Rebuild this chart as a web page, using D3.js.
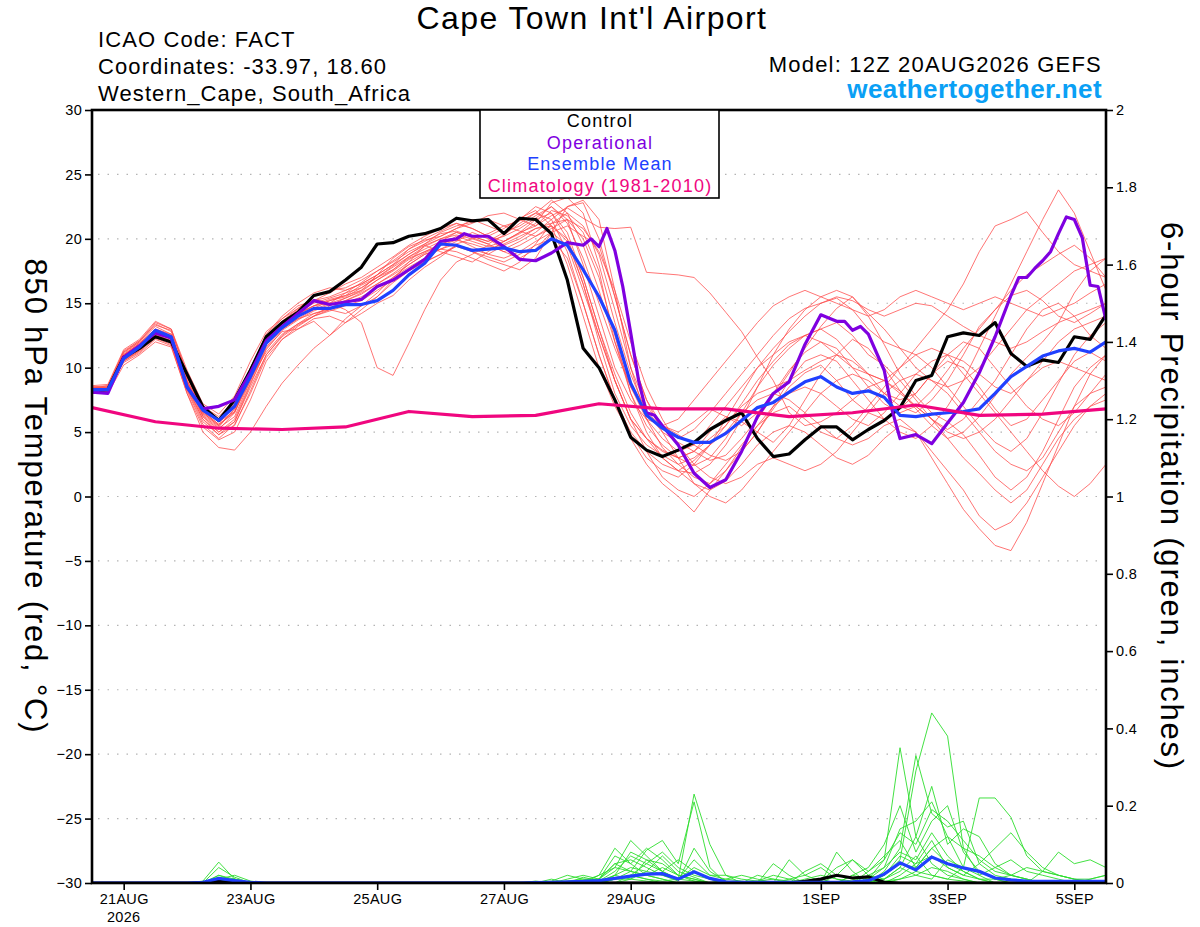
<!DOCTYPE html>
<html>
<head>
<meta charset="utf-8">
<script src="https://cdn.jsdelivr.net/npm/d3@7"></script>
<style>
  body { margin: 0; background: #fff; }
  svg { display: block; font-family: "Liberation Sans", Arial, Helvetica, sans-serif; }
</style>
</head>
<body>
<svg id="chart" width="1200" height="927"></svg>
<script>
// run start 12Z 20AUG2026, 6-hourly steps out to 384 h
var runStart = Date.UTC(2026, 7, 20, 12);
var stepHours = 6;

var dateTicks = ["2026-08-21", "2026-08-23", "2026-08-25", "2026-08-27",
                 "2026-08-29", "2026-09-01", "2026-09-03", "2026-09-05"];
var tempTicks = [-30, -25, -20, -15, -10, -5, 0, 5, 10, 15, 20, 25, 30];
var precipTicks = [0, 0.2, 0.4, 0.6, 0.8, 1, 1.2, 1.4, 1.6, 1.8, 2];

var legendItems = ["Control", "Operational", "Ensemble Mean", "Climatology (1981-2010)"];

// 850 hPa temperature, control run (black)
var controlTemp = [8.2, 8.3, 10.8, 11.5, 12.4, 12.0, 9.5, 6.95, 5.9, 7.5,
  9.8, 12.4, 13.5, 14.3, 15.6, 15.9, 16.8, 17.8, 19.6, 19.7,
  20.2, 20.4, 20.8, 21.6, 21.4, 21.5, 20.4, 21.6, 21.5, 20.4,
  16.8, 11.5, 10.0, 7.5, 4.6, 3.6, 3.1, 3.6, 4.2, 5.2,
  5.9, 6.5, 4.5, 3.1, 3.3, 4.4, 5.4, 5.4, 4.4, 5.2,
  5.9, 6.9, 9.0, 9.4, 12.4, 12.7, 12.5, 13.5, 11.1, 10.1,
  10.6, 10.4, 12.4, 12.2, 14.1];

// ensemble mean (blue)
var meanTemp = [8.3, 8.3, 10.7, 11.6, 12.9, 12.4, 8.5, 6.7, 5.9, 7.0,
  9.3, 11.9, 13.1, 14.0, 14.6, 14.6, 14.9, 14.9, 15.2, 16.0,
  17.2, 18.1, 19.6, 19.5, 19.1, 19.2, 19.3, 19.0, 19.1, 20.0,
  19.5, 17.6, 15.5, 12.9, 8.8, 6.3, 5.3, 4.6, 4.2, 4.2,
  4.9, 5.9, 6.9, 7.3, 8.1, 8.9, 9.3, 8.5, 8.0, 8.2,
  7.7, 6.3, 6.2, 6.4, 6.5, 6.6, 6.8, 8.0, 9.3, 10.1,
  10.9, 11.3, 11.5, 11.2, 12.0];

// operational run (purple), own hour stamps
var opHours = [0, 6, 12, 18, 24, 30, 36, 42, 48, 54, 60, 66, 72, 78, 84, 90, 96, 102, 108, 114,
  120, 126, 132, 138, 141, 144, 150, 156, 162, 168, 174, 180, 186, 189, 192, 195, 198, 201, 204, 207,
  210, 213, 216, 222, 228, 234, 240, 246, 252, 258, 264, 270, 276, 282, 285, 288, 291, 294, 300, 303,
  306, 312, 318, 324, 330, 336, 342, 348, 351, 354, 357, 360, 363, 366, 369, 372, 375, 378, 381, 384];
var opTemp = [8.1, 8.0, 10.8, 11.7, 12.7, 12.3, 8.5, 6.8, 7.0, 7.5, 9.6, 12.1, 13.2, 14.2, 15.2, 14.9, 15.1, 15.3, 16.3, 16.8,
  17.6, 18.4, 19.8, 20.0, 20.4, 20.2, 20.2, 19.4, 18.4, 18.3, 18.9, 19.7, 19.5, 20.0, 19.4, 20.8, 19.1, 16.3, 12.7, 9.0,
  6.5, 6.3, 5.5, 4.0, 1.8, 0.7, 1.3, 3.5, 6.2, 8.0, 8.9, 11.8, 14.1, 13.6, 13.6, 12.9, 13.2, 12.6, 9.8, 6.7,
  4.5, 4.8, 4.1, 5.7, 7.3, 9.6, 12.4, 15.6, 17.0, 17.0, 17.7, 18.3, 19.0, 20.4, 21.7, 21.5, 20.1, 16.4, 16.3, 13.7];

// climatology (pink), daily
var climHours = [0, 24, 48, 72, 96, 120, 144, 168, 192, 216, 240, 264, 288, 312, 336, 360, 384];
var climTemp = [6.9, 5.8, 5.3, 5.2, 5.4, 6.6, 6.2, 6.3, 7.2, 6.8, 6.8, 6.2, 6.5, 7.1, 6.3, 6.4, 6.8];

// ensemble members, 850 hPa temperature (thin red)
var memberTemp = [
  [8.5,8.4,11.2,12.0,13.2,12.6,9.0,6.2,5.2,6.5, 9.5,12.3,13.6,14.6,15.3,15.0,15.8,16.2,17.0,17.8, 18.6,19.2,19.8,20.5,20.1,19.6,20.3,21.2,22.0,21.5, 19.0,15.0,11.0,7.5,5.0,3.5,2.5,2.0,2.8,4.0, 5.5,7.2,9.0,10.5,11.8,12.5,13.0,12.2,10.8,9.5, 8.0,7.0,6.5,7.5,9.0,11.0,13.2,14.5,15.6,16.0, 15.2,14.0,13.5,14.2,15.0],
  [8.2,8.2,10.6,11.4,12.6,12.0,8.6,6.6,5.6,7.2, 9.8,12.0,13.0,13.8,14.2,14.5,14.2,14.8,15.5,16.8, 18.2,19.5,19.0,18.6,18.2,19.0,19.8,20.5,21.0,22.2, 21.8,20.5,17.5,12.0,8.0,5.5,4.0,3.0,3.5,5.0, 6.2,5.8,5.0,4.2,5.5,7.5,9.5,11.0,12.2,11.5, 10.0,8.2,6.8,5.5,4.5,5.0,6.2,7.8,9.5,10.8, 12.0,13.5,15.8,17.5,18.5],
  [8.0,8.1,10.5,11.2,12.3,11.8,8.2,5.6,4.5,5.6, 8.0,10.8,12.2,13.0,13.8,14.0,13.5,14.2,15.0,15.6, 16.8,17.8,18.6,19.5,19.0,18.4,18.0,17.6,18.5,20.5, 22.5,23.0,21.5,16.0,10.0,6.0,3.8,2.5,1.5,1.0, 2.0,3.5,5.0,6.8,8.5,9.6,10.2,9.0,7.5,6.5, 6.0,6.8,8.0,9.5,10.5,10.0,8.5,6.8,5.5,6.0, 7.5,9.0,10.5,11.2,10.5],
  [8.3,8.5,11.0,11.9,13.0,12.5,9.2,6.9,6.0,7.0, 9.2,11.2,12.6,13.4,14.0,14.8,15.4,16.0,17.2,18.5, 19.4,19.9,20.2,20.8,21.2,21.8,22.0,21.5,21.0,21.8, 22.4,21.6,20.9,20.8,20.9,17.4,17.3,17.2,17.0,15.8, 14.3,12.8,10.8,9.0,6.5,5.5,5.8,6.5,7.5,8.5, 9.0,8.2,7.0,6.0,5.2,6.0,7.5,9.0,11.0,13.0, 14.5,15.0,14.0,12.5,11.5],
  [8.6,8.7,11.4,12.2,13.6,13.0,9.8,7.2,6.4,7.8, 10.5,12.8,13.8,14.8,15.2,15.8,16.5,17.0,17.8,18.6, 19.5,20.2,20.8,21.2,20.8,20.2,19.8,20.4,21.2,22.8, 23.2,22.0,18.0,13.5,9.5,6.5,5.0,4.2,3.5,2.8, 3.2,4.5,6.0,7.8,9.6,11.5,13.2,14.6,15.5,14.0, 11.8,9.5,7.8,6.5,5.8,4.8,3.2,1.5,0.5,1.5, 3.5,6.0,8.5,10.0,11.0],
  [8.1,8.0,10.2,11.0,12.0,11.6,8.0,5.0,3.8,3.6, 5.0,7.0,8.8,10.2,11.5,12.5,13.5,14.5,15.5,16.6, 17.5,18.2,18.8,19.5,19.2,18.8,19.5,20.0,20.8,21.0, 20.0,17.0,13.0,9.0,6.0,4.5,3.6,3.0,2.4,3.0, 4.5,6.5,8.5,10.2,11.5,12.5,13.0,13.5,12.5,11.0, 10.2,9.0,7.5,6.0,4.5,3.0,1.8,0.5,-0.5,0.5, 2.5,4.5,6.0,7.0,7.5],
  [8.4,8.3,10.8,11.6,12.8,12.2,8.8,6.4,5.4,6.8, 9.6,12.2,13.4,14.2,14.8,15.0,14.5,13.5,10.0,9.4, 11.9,14.5,16.8,18.2,18.8,19.5,19.0,18.5,19.2,20.5, 21.0,20.2,19.5,15.5,11.0,7.5,5.5,4.5,5.2,6.5, 8.0,9.5,11.0,12.5,13.8,14.6,15.0,15.4,14.5,13.0, 12.0,11.5,11.0,10.0,8.5,7.0,5.5,4.2,3.5,4.5, 6.5,8.8,11.0,12.5,13.5],
  [8.2,8.3,10.7,11.5,12.6,12.1,8.4,6.0,5.0,6.0, 8.8,11.5,12.8,13.0,13.6,12.5,13.8,14.8,15.8,17.0, 18.0,18.8,19.2,19.0,18.5,18.0,17.5,18.2,19.6,21.2, 22.0,21.0,18.8,14.5,10.0,7.0,5.5,5.0,5.8,6.8, 6.2,5.5,6.5,8.0,9.8,11.2,12.0,11.5,10.0,8.5, 7.2,6.5,7.0,8.2,9.8,11.5,13.0,14.5,16.0,17.2, 18.0,18.8,19.5,18.5,17.0],
  [8.0,8.2,10.9,11.8,12.9,12.3,9.0,6.8,5.8,6.6, 9.0,11.8,13.2,14.0,14.6,15.2,15.6,16.4,17.0,17.6, 18.5,19.0,19.6,20.0,19.4,18.8,18.5,19.0,19.8,20.5, 19.5,16.0,12.5,9.0,6.0,3.5,1.5,0.5,0.0,1.0, 2.5,4.0,5.5,6.5,7.0,6.0,5.0,4.5,5.5,7.0, 8.5,10.0,11.0,11.5,11.0,9.5,8.0,6.5,5.0,3.5, 2.0,0.8,0.0,1.0,2.5],
  [8.5,8.5,11.1,12.0,13.4,12.8,9.6,7.0,6.2,7.4, 10.0,12.5,13.8,14.6,15.5,16.0,16.2,16.8,17.5,18.2, 19.0,19.6,20.2,20.8,21.5,21.0,20.5,21.0,21.8,22.5, 21.2,18.5,15.0,11.5,8.5,6.5,5.5,4.8,4.0,3.2, 2.8,3.5,5.0,7.0,9.0,10.5,11.0,10.5,9.0,7.5, 6.0,5.0,4.5,5.5,7.0,9.0,11.5,14.0,16.5,19.0, 21.5,23.8,22.0,19.0,16.0],
  [8.3,8.2,10.4,11.1,12.2,11.7,8.0,5.4,4.4,5.0, 7.5,10.5,12.2,13.2,14.0,14.5,15.0,15.5,16.2,17.0, 17.8,18.5,19.2,19.8,20.5,20.0,19.2,19.8,20.5,21.5, 22.5,22.8,20.0,15.5,11.0,7.5,5.0,3.0,1.0,0.0, -0.5,0.5,2.0,3.5,5.0,6.5,8.0,9.0,9.5,9.0, 8.0,7.5,8.0,9.5,11.0,12.0,11.5,10.0,8.5,7.0, 6.0,5.5,6.5,8.0,9.5],
  [8.4,8.6,11.2,12.1,13.3,12.9,9.4,6.5,5.5,6.8, 9.8,12.6,14.0,15.0,15.8,16.2,16.0,16.5,17.2,18.0, 19.2,20.0,20.6,21.2,20.8,20.2,20.8,21.6,22.2,21.0, 18.0,14.0,10.0,7.0,4.8,3.0,2.0,1.5,2.5,4.0, 6.0,8.0,10.0,11.5,12.8,14.0,15.0,15.5,15.2,14.5, 14.0,14.5,15.0,14.8,14.0,13.2,12.5,12.0,11.5,12.0, 12.8,13.5,14.0,14.5,15.0],
  [8.1,8.0,10.6,11.3,12.4,12.0,8.5,6.2,5.0,5.8, 8.5,11.0,12.5,13.4,14.2,14.6,15.2,15.8,16.5,17.2, 18.0,18.8,19.2,19.6,20.0,20.4,21.0,20.6,20.2,20.8, 21.5,20.0,17.0,12.5,8.0,5.0,3.0,2.0,1.8,2.5, 4.0,6.0,8.5,11.0,13.0,14.5,15.5,16.0,15.5,14.2, 13.0,11.5,10.0,9.0,8.5,9.0,10.0,11.5,13.0,14.5, 15.5,16.5,17.5,18.0,18.5],
  [8.2,8.3,10.8,11.6,12.7,12.2,8.8,6.3,5.3,6.2, 9.0,11.6,13.0,13.8,14.5,15.0,15.4,15.9,16.8,17.5, 18.4,19.0,19.5,20.2,19.8,19.4,19.8,20.5,21.5,22.0, 20.5,17.0,13.0,9.5,6.5,4.5,3.0,2.0,1.0,0.5, 1.2,2.5,4.0,5.0,5.5,5.0,4.0,3.0,2.5,3.2, 4.5,5.5,5.0,3.5,2.0,0.5,-1.5,-2.6,-2.0,-0.5, 1.5,3.5,5.5,7.0,8.0],
  [8.4,8.4,10.9,11.8,12.9,12.4,9.0,6.6,5.6,6.5, 9.2,11.9,13.2,14.1,14.8,15.2,15.5,16.2,17.0,17.9, 18.8,19.5,20.0,20.3,20.0,19.6,19.0,19.5,20.2,21.0, 19.8,16.5,12.0,8.0,5.5,4.0,3.2,2.5,3.0,4.0, 5.0,6.5,7.5,8.0,7.5,6.5,5.5,4.5,4.0,4.5, 5.5,6.0,5.0,3.0,1.0,-1.0,-2.5,-3.8,-4.2,-2.0, 1.0,4.0,7.0,9.5,11.0],
  [8.3,8.4,11.0,11.9,13.0,12.6,9.3,6.8,5.9,7.2, 9.9,12.4,13.6,14.4,15.0,15.4,15.8,16.6,17.5,18.3, 19.2,19.8,20.4,20.6,20.2,19.8,20.5,21.5,22.5,22.0, 20.0,16.5,12.5,9.0,6.0,4.5,3.5,3.0,3.5,4.5, 5.5,7.0,8.0,8.5,9.0,9.8,10.5,11.0,10.5,9.5, 9.0,10.0,11.5,13.0,14.5,16.5,19.0,21.0,21.5,22.1, 20.5,19.0,18.0,17.5,17.0],
  [8.0,8.1,10.5,11.3,12.5,11.9,8.3,5.8,4.8,5.5, 8.2,11.0,12.4,13.3,14.0,14.4,14.8,15.2,16.0,16.8, 17.6,18.2,18.8,19.4,19.0,18.6,18.2,18.8,19.5,20.0, 18.5,15.0,11.0,7.5,4.5,2.5,1.0,0.0,-1.2,0.5, 2.0,3.8,5.5,7.0,8.0,8.5,8.0,7.0,6.0,5.5, 6.5,8.0,9.5,10.5,11.0,10.5,9.5,8.5,8.0,9.0, 10.5,12.0,13.0,13.5,14.0],
  [8.5,8.6,11.3,12.1,13.5,13.0,9.5,7.0,6.0,7.0, 9.6,12.2,13.5,14.5,15.2,15.5,16.0,16.5,17.2,18.0, 18.8,19.6,20.5,21.0,21.3,21.5,21.0,21.4,22.0,23.0, 22.0,19.5,16.0,12.0,8.5,6.0,4.5,3.5,4.0,5.5, 7.0,8.5,10.0,11.0,12.0,12.5,12.0,11.0,10.0,9.5, 9.0,8.0,7.0,6.0,5.0,4.5,5.0,6.0,7.5,9.0, 10.0,10.5,10.0,9.5,9.0],
  [8.2,8.1,10.6,11.4,12.5,12.0,8.5,6.0,4.8,5.8, 8.7,11.4,12.9,13.7,14.4,14.9,15.2,15.7,16.5,17.3, 18.2,18.9,19.5,19.9,19.6,19.2,19.6,20.2,20.8,21.2, 21.5,20.8,19.0,16.0,12.0,8.5,6.0,4.0,2.5,1.5, 1.0,1.5,2.5,3.0,2.5,2.0,2.5,3.5,5.0,6.5, 8.0,9.0,9.5,9.0,8.0,6.5,5.0,3.5,2.5,2.0, 3.0,5.0,7.0,8.0,8.5],
  [8.4,8.5,11.0,11.8,12.8,12.3,8.9,6.5,5.5,6.6, 9.4,12.0,13.3,14.2,14.8,15.3,15.6,16.0,16.8,17.6, 18.6,19.4,20.0,20.5,20.2,19.8,20.2,20.8,21.6,22.5, 21.5,18.0,14.0,10.0,7.5,6.0,5.5,6.0,7.5,9.0, 10.5,12.0,13.5,14.8,15.5,16.0,15.5,15.0,14.5,14.0, 14.5,15.5,16.0,15.5,15.0,14.5,15.0,15.5,15.0,14.5, 14.0,14.5,15.0,15.8,16.5]
];

// 6-hour precipitation (inches): control and ensemble mean
var controlPrecip = [0,0,0,0,0,0,0,0, 0.004,0,0,0, 0,0,0,0,0,0,0,0,0,0,0,0,0,0,0,0,
  0,0,0,0,0,0,0,0,0,0, 0,0,0,0,0,0,0,0.004,0.01,0.02, 0.013,0.016,0.002,0,0,0,0,0,0,0, 0,0,0,0,0,0,0];
var meanPrecip = [0,0,0,0,0,0,0,0.002, 0.012,0.006,0.002,0, 0,0,0,0,0,0,0,0,0,0,0,0,0,0,0,0,
  0.001,0.002,0.003,0.004,0.006,0.012,0.018,0.023,0.024,0.01, 0.029,0.012,0.003,0.002,0.002,0.002,0.002,0.002,0.002,0.002,
  0.003,0.006,0.023,0.052,0.034,0.067,0.05,0.039,0.03,0.013, 0.008,0.005,0.004,0.004,0.004,0.004,0.004];

// ensemble members, 6-hour precipitation (thin green)
var memberPrecip = [
  [0,0,0,0,0,0,0,0.005, 0.054,0.01,0,0, 0,0,0,0,0,0,0,0,0,0,0,0,0,0,0,0,
   0,0,0,0.015,0.005,0.02,0.08,0.06,0.03,0.01, 0.23,0.10,0.02,0,0,0,0,0,0.01,0, 0,0.01,0.06,0.35,0.12,0.05,0.02,0.01,0,0, 0,0,0,0,0,0,0],
  [0,0,0,0,0,0,0,0, 0.04,0.015,0,0, 0,0,0,0,0,0,0,0,0,0,0,0,0,0,0,0,
   0,0,0.01,0.02,0.01,0.04,0.03,0.085,0.11,0.05, 0.21,0.04,0,0,0,0.05,0.02,0,0,0.08, 0.03,0,0.02,0.06,0.29,0.44,0.38,0.09,0.02,0, 0,0,0,0,0,0,0],
  [0,0,0,0,0,0,0,0, 0.02,0.01,0,0, 0,0,0,0,0,0,0,0,0,0,0,0,0,0,0,0,
   0,0.005,0.02,0.01,0.01,0.05,0.06,0.04,0.02,0.005, 0.09,0.03,0.005,0,0.02,0.01,0,0,0,0, 0,0.02,0.04,0.14,0.16,0.21,0.12,0.04,0.22,0.22, 0.17,0.07,0.03,0.02,0.01,0.005,0],
  [0,0,0,0,0,0,0,0, 0.015,0.005,0,0, 0,0,0,0,0,0,0,0,0,0,0,0,0,0,0,0,
   0,0,0,0.005,0.01,0.07,0.05,0.09,0.06,0.02, 0.01,0,0,0,0,0,0.06,0.02,0.005,0, 0,0,0.03,0.09,0.33,0.18,0.145,0.16,0.05,0.02, 0.01,0.005,0,0,0,0,0],
  [0,0,0,0,0,0,0,0, 0.01,0.02,0.005,0, 0,0,0,0,0,0,0,0,0,0,0,0,0,0,0,0,
   0,0,0,0,0.005,0.03,0.07,0.05,0.08,0.04, 0.02,0.01,0,0,0,0,0,0.03,0.05,0.02, 0.06,0.03,0.07,0.11,0.04,0.09,0.05,0.03,0.01,0, 0,0,0.03,0.08,0.05,0.06,0.04],
  [0,0,0,0,0,0,0,0, 0.005,0.01,0,0, 0,0,0,0,0,0,0,0,0,0,0,0,0,0,0,0,
   0.005,0,0,0,0,0.02,0.04,0.03,0.07,0.03, 0.015,0,0,0,0,0,0,0,0,0, 0.02,0.04,0.1,0.2,0.08,0.16,0.2,0.08,0.03,0.01, 0,0,0,0,0,0.01,0.02],
  [0,0,0,0,0,0,0,0, 0.01,0.005,0,0, 0,0,0,0,0,0,0,0,0,0,0,0,0,0,0,0,
   0,0,0,0,0.01,0.05,0.03,0.02,0.04,0.02, 0.005,0,0.01,0.02,0.01,0,0,0,0.005,0.04, 0.06,0.02,0.01,0.04,0.12,0.25,0.1,0.14,0.12,0.05, 0.02,0.01,0,0,0,0,0],
  [0,0,0,0,0,0,0,0, 0,0.01,0,0, 0,0,0,0,0,0,0,0,0,0,0,0,0,0,0,0,
   0,0,0,0,0,0.01,0.02,0.05,0.03,0.06, 0.03,0.01,0,0,0,0,0,0,0,0, 0,0.01,0.02,0.07,0.05,0.11,0.04,0.02,0.05,0.09, 0.13,0.08,0.04,0.02,0.01,0,0],
  [0,0,0,0,0,0,0,0, 0.01,0,0,0, 0,0,0,0,0,0,0,0,0,0,0,0,0,0,0,0,
   0,0,0.005,0.01,0.005,0.01,0.02,0.01,0.005,0.01, 0.06,0.02,0.01,0.005,0,0,0.01,0.02,0.04,0.01, 0,0,0.01,0.03,0.07,0.02,0.01,0.04,0.03,0.01, 0,0,0,0,0,0,0],
  [0,0,0,0,0,0,0,0, 0.02,0.005,0,0, 0,0,0,0,0,0,0,0,0,0,0,0,0,0,0,0,
   0,0,0,0,0,0,0.01,0.03,0.02,0.01, 0.04,0.02,0.02,0.01,0.005,0.01,0.005,0,0,0, 0,0.03,0.06,0.13,0.1,0.19,0.16,0.11,0.06,0.03, 0.02,0.04,0.03,0.02,0.01,0.01,0.02],
  [0,0,0,0,0,0,0,0, 0.005,0.005,0,0, 0,0,0,0,0,0,0,0,0,0,0,0,0,0,0,0,
   0,0.01,0,0,0.02,0.04,0.11,0.07,0.03,0.01, 0.005,0,0,0,0,0,0,0,0,0, 0.02,0.01,0.04,0.08,0.06,0.13,0.07,0.03,0.01,0, 0,0,0,0,0,0,0],
  [0,0,0,0,0,0,0,0, 0.01,0.01,0,0, 0,0,0,0,0,0,0,0,0,0,0,0,0,0,0,0,
   0,0,0,0.005,0.02,0.09,0.05,0.02,0.01,0, 0,0,0,0,0.005,0.02,0.01,0,0,0, 0,0,0.01,0.04,0.02,0.01,0.06,0.04,0.02,0.04, 0.06,0.03,0.02,0.01,0,0,0],
  [0,0,0,0,0,0,0,0, 0,0.005,0,0, 0,0,0,0,0,0,0,0,0,0,0,0,0,0,0,0,
   0,0,0,0,0,0.02,0.01,0.06,0.05,0.02, 0.01,0,0,0,0,0,0,0,0,0.02, 0.01,0,0.02,0.05,0.04,0.09,0.12,0.09,0.07,0.04, 0.02,0.01,0,0,0,0,0],
  [0,0,0,0,0,0,0,0, 0.005,0,0,0, 0,0,0,0,0,0,0,0,0,0,0,0,0,0,0,0,
   0,0,0,0,0,0.01,0.03,0.02,0.01,0, 0,0,0,0,0,0,0,0.01,0.02,0.01, 0.005,0,0,0.02,0.05,0.07,0.04,0.02,0.01,0.01, 0.02,0.01,0,0,0,0,0],
  [0,0,0,0,0,0,0,0, 0,0,0,0, 0,0,0,0,0,0,0,0,0,0,0,0,0,0,0,0,
   0,0,0,0,0,0,0.02,0.01,0,0, 0,0,0,0,0,0,0,0,0,0, 0,0,0,0.01,0.03,0.02,0.01,0.005,0,0, 0,0,0,0,0,0,0],
  [0,0,0,0,0,0,0,0, 0.01,0,0,0, 0,0,0,0,0,0,0,0,0,0,0,0,0,0,0,0,
   0,0,0,0,0,0.01,0.01,0.005,0,0, 0,0,0,0,0,0,0,0,0,0, 0,0,0.005,0.01,0.02,0.04,0.03,0.01,0,0, 0,0,0,0,0,0,0]
];

// ---------------------------------------------------------------
var svg = d3.select("#chart");
var margin = {top: 110, right: 94, bottom: 44, left: 92};
var width = 1200 - margin.left - margin.right,
    height = 927 - margin.top - margin.bottom;

var timeAt = function(h) { return new Date(runStart + h * 3600e3); };

var x = d3.scaleUtc()
    .domain([timeAt(0), timeAt(384)])
    .range([margin.left, margin.left + width]);
var yT = d3.scaleLinear().domain([-30, 30]).range([margin.top + height, margin.top]);
var yP = d3.scaleLinear().domain([0, 2]).range([margin.top + height, margin.top]);

svg.append("defs").append("clipPath").attr("id", "plotClip")
  .append("rect")
    .attr("x", margin.left).attr("y", margin.top - 2)
    .attr("width", width).attr("height", height + 2);

// dotted horizontal grid
svg.append("g").selectAll("line")
  .data(tempTicks.filter(function(d) { return d > -30 && d < 30; }))
  .enter().append("line")
    .attr("x1", margin.left + 6).attr("x2", margin.left + width)
    .attr("y1", function(d) { return yT(d); })
    .attr("y2", function(d) { return yT(d); })
    .attr("stroke", "#b4b4b4")
    .attr("stroke-width", 1.2)
    .attr("stroke-dasharray", "1.5,8");

var plot = svg.append("g").attr("clip-path", "url(#plotClip)");

var stepLine = function(scale) {
  return d3.line()
    .x(function(d, i) { return x(timeAt(i * stepHours)); })
    .y(function(d) { return scale(d); });
};
var hourLine = function(hours, scale) {
  return d3.line()
    .x(function(d, i) { return x(timeAt(hours[i])); })
    .y(function(d) { return scale(d); });
};

plot.append("g").selectAll("path").data(memberTemp).enter().append("path")
  .attr("d", stepLine(yT))
  .attr("fill", "none").attr("stroke", "#ff4a4a")
  .attr("stroke-width", 0.9).attr("stroke-opacity", 0.85);

plot.append("g").selectAll("path").data(memberPrecip).enter().append("path")
  .attr("d", stepLine(yP))
  .attr("fill", "none").attr("stroke", "#2ede2e")
  .attr("stroke-width", 0.9);

plot.append("path").datum(controlPrecip).attr("d", stepLine(yP))
  .attr("fill", "none").attr("stroke", "#000").attr("stroke-width", 3.2);
plot.append("path").datum(meanPrecip).attr("d", stepLine(yP))
  .attr("fill", "none").attr("stroke", "#2040ff").attr("stroke-width", 3.2);

plot.append("path").datum(controlTemp).attr("d", stepLine(yT))
  .attr("fill", "none").attr("stroke", "#000").attr("stroke-width", 3.2)
  .attr("stroke-linejoin", "round");
plot.append("path").datum(opTemp).attr("d", hourLine(opHours, yT))
  .attr("fill", "none").attr("stroke", "#7f00e0").attr("stroke-width", 3.2)
  .attr("stroke-linejoin", "round");
plot.append("path").datum(meanTemp).attr("d", stepLine(yT))
  .attr("fill", "none").attr("stroke", "#2040ff").attr("stroke-width", 3.2)
  .attr("stroke-linejoin", "round");
plot.append("path").datum(climTemp).attr("d", hourLine(climHours, yT))
  .attr("fill", "none").attr("stroke", "#f0067f").attr("stroke-width", 3.2)
  .attr("stroke-linejoin", "round");

// frame
svg.append("rect")
  .attr("x", margin.left).attr("y", margin.top)
  .attr("width", width).attr("height", height)
  .attr("fill", "none").attr("stroke", "#000").attr("stroke-width", 2.6);

// axes
var leftAxis = svg.append("g")
  .attr("transform", "translate(" + margin.left + ",0)")
  .call(d3.axisLeft(yT).tickValues(tempTicks).tickSize(7).tickPadding(3));
var rightAxis = svg.append("g")
  .attr("transform", "translate(" + (margin.left + width) + ",0)")
  .call(d3.axisRight(yP).tickValues(precipTicks).tickSize(7).tickPadding(3)
    .tickFormat(function(d) { return String(+d.toFixed(1)); }));
var fmt = d3.utcFormat("%-d%b");
var bottomAxis = svg.append("g")
  .attr("transform", "translate(0," + (margin.top + height) + ")")
  .call(d3.axisBottom(x)
    .tickValues(dateTicks.map(function(s) { return new Date(s + "T00:00:00Z"); }))
    .tickSize(7).tickPadding(4)
    .tickFormat(function(d) { return fmt(d).toUpperCase(); }));

[leftAxis, rightAxis, bottomAxis].forEach(function(a) {
  a.select(".domain").remove();
  a.selectAll(".tick line").attr("stroke", "#000").attr("stroke-width", 1.6);
  a.selectAll(".tick text").attr("fill", "#000")
    .style("font-family", "'Liberation Sans', Arial, sans-serif")
    .style("font-size", "14.5px").style("letter-spacing", "0.3px");
});
bottomAxis.selectAll(".tick text").attr("dy", "0.72em");

svg.append("text")
  .attr("x", x(new Date(dateTicks[0] + "T00:00:00Z"))).attr("y", 922)
  .attr("text-anchor", "middle").style("font-size", "14.5px").style("letter-spacing", "0.3px")
  .text("2026");

// axis titles (both read top to bottom)
svg.append("text")
  .attr("transform", "translate(25," + yT(0) + ") rotate(90)")
  .attr("text-anchor", "middle").style("font-size", "31px").style("letter-spacing", "1.8px")
  .text("850 hPa Temperature (red, °C)");
svg.append("text")
  .attr("transform", "translate(1161," + yT(0) + ") rotate(90)")
  .attr("text-anchor", "middle").style("font-size", "31px").style("letter-spacing", "1.8px")
  .text("6-hour Precipitation (green, inches)");

// header
svg.append("text").attr("x", 592).attr("y", 29)
  .attr("text-anchor", "middle").style("font-size", "32px").style("letter-spacing", "1.4px")
  .text("Cape Town Int'l Airport");

var infoLines = ["ICAO Code: FACT", "Coordinates: -33.97, 18.60", "Western_Cape, South_Africa"];
svg.append("g").selectAll("text").data(infoLines).enter().append("text")
  .attr("x", 98).attr("y", function(d, i) { return 47 + i * 27; })
  .style("font-size", "22px").style("letter-spacing", "1.1px")
  .text(function(d) { return d; });

svg.append("text").attr("x", 1102).attr("y", 72)
  .attr("text-anchor", "end").style("font-size", "22px").style("letter-spacing", "1.2px")
  .text("Model: 12Z 20AUG2026 GEFS");
svg.append("text").attr("x", 1102).attr("y", 98)
  .attr("text-anchor", "end").style("font-size", "26px").style("font-weight", "bold")
  .style("letter-spacing", "0.4px")
  .attr("fill", "#0aa0f5")
  .text("weathertogether.net");

// legend
var legendColors = ["#000", "#7f00e0", "#2040ff", "#f0067f"];
var legend = svg.append("g");
legend.append("rect")
  .attr("x", 480).attr("y", margin.top).attr("width", 239).attr("height", 88)
  .attr("fill", "#fff").attr("stroke", "#000").attr("stroke-width", 1.6);
legend.selectAll("text").data(legendItems).enter().append("text")
  .attr("x", 600).attr("y", function(d, i) { return 127 + i * 21.5; })
  .attr("text-anchor", "middle").style("font-size", "18px").style("letter-spacing", "1.2px")
  .attr("fill", function(d, i) { return legendColors[i]; })
  .text(function(d) { return d; });
</script>
</body>
</html>
